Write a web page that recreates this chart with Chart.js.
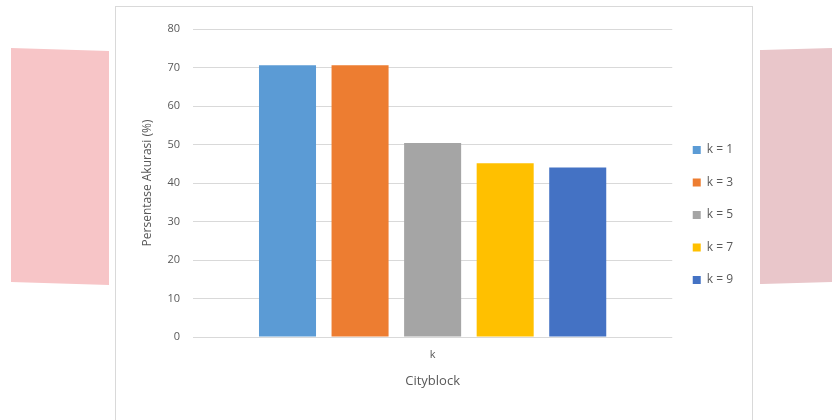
<!DOCTYPE html>
<html>
<head>
<meta charset="utf-8">
<script src="https://cdn.jsdelivr.net/npm/chart.js@4.4.1/dist/chart.umd.min.js"></script>
<style>
  html, body { margin: 0; padding: 0; background: #fff; }
  body { width: 832px; height: 420px; position: relative; overflow: hidden; }
  .deco { position: absolute; }
  #decoLeft { left: 11px; top: 47px; width: 98px; height: 239px; background: #f7c5c7;
    clip-path: polygon(0 1px, 98px 4px, 98px 238px, 0 235px); }
  #decoRight { left: 760px; top: 47px; width: 72px; height: 239px; background: #e9c6ca;
    clip-path: polygon(0 3px, 72px 1px, 72px 235px, 0 237px); }
  #frame { position: absolute; left: 115px; top: 6px; width: 636px; height: 416px;
    border: 1px solid #d9d9d9; background: #fff; }
  #frame canvas { display: block; }
</style>
</head>
<body>
<div class="deco" id="decoLeft"></div>
<div class="deco" id="decoRight"></div>
<div id="frame"><canvas id="akurasiChart" width="636" height="416"></canvas></div>
<script>
// Akurasi per nilai k (jarak Cityblock)
const categories = ['k'];
const seriesNames = ['k = 1', 'k = 3', 'k = 5', 'k = 7', 'k = 9'];
const accuracy = [70.6, 70.6, 50.4, 45.1, 44.0];
const seriesColors = ['#5b9bd5', '#ed7d31', '#a5a5a5', '#ffc000', '#4472c4'];
const yMin = 0;
const yMax = 80;
const yStep = 10;

const textColor = '#595959';
const fontFamily = '"Open Sans", "Noto Sans", sans-serif';

const ctx = document.getElementById('akurasiChart').getContext('2d');
const akurasiChart = new Chart(ctx, {
  type: 'bar',
  data: {
    labels: categories,
    datasets: seriesNames.map((name, i) => ({
      label: name,
      data: [accuracy[i]],
      backgroundColor: seriesColors[i],
      categoryPercentage: 0.757,
      barPercentage: 0.786
    }))
  },
  options: {
    responsive: false,
    animation: false,
    layout: { padding: { left: 20, right: 9, top: 22, bottom: 22 } },
    plugins: {
      legend: {
        position: 'right',
        labels: {
          boxWidth: 8,
          boxHeight: 8,
          padding: 20.5,
          color: textColor,
          font: { family: fontFamily, size: 12 }
        }
      },
      tooltip: { enabled: false }
    },
    scales: {
      x: {
        grid: { display: false, drawTicks: false },
        border: { display: false },
        ticks: { color: textColor, padding: 11, font: { family: fontFamily, size: 11 } },
        title: {
          display: true,
          text: 'Cityblock',
          color: textColor,
          padding: { top: 4, bottom: 12 },
          font: { family: fontFamily, size: 13 }
        },
        afterFit(scale) { scale.height = 64; }
      },
      y: {
        min: yMin,
        max: yMax,
        grid: { color: '#d9d9d9', drawTicks: false },
        border: { display: false },
        ticks: { stepSize: yStep, color: textColor, padding: 13, font: { family: fontFamily, size: 11 } },
        title: {
          display: true,
          text: 'Persentase Akurasi (%)',
          color: textColor,
          padding: { top: 4, bottom: 4 },
          font: { family: fontFamily, size: 12 }
        },
        afterFit(scale) { scale.width = 57; }
      }
    }
  }
});
</script>
</body>
</html>
